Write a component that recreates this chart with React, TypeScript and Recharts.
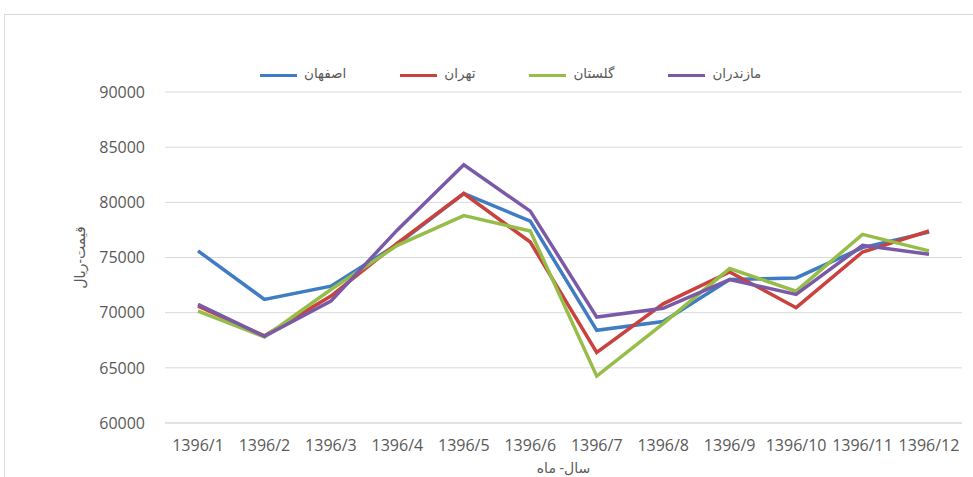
import React from 'react'
import { CartesianGrid, Line, LineChart, XAxis, YAxis } from 'recharts'

const months = [
  '1396/1', '1396/2', '1396/3', '1396/4', '1396/5', '1396/6',
  '1396/7', '1396/8', '1396/9', '1396/10', '1396/11', '1396/12',
]
const esfahan = [75600, 71200, 72400, 76200, 80800, 78300, 68400, 69200, 73000, 73150, 75900, 77300]
const tehran = [70600, 67900, 71500, 76300, 80800, 76400, 66400, 70800, 73700, 70450, 75500, 77400]
const golestan = [70150, 67800, 72100, 76100, 78800, 77400, 64250, 69000, 74000, 71950, 77100, 75600]
const mazandaran = [70750, 67850, 71050, 77500, 83400, 79200, 69600, 70400, 73000, 71650, 76100, 75300]
const yTicks = [60000, 65000, 70000, 75000, 80000, 85000, 90000]

const series = [
  { key: 'esfahan', name: 'اصفهان', color: '#3f7cc3' },
  { key: 'tehran', name: 'تهران', color: '#c9423d' },
  { key: 'golestan', name: 'گلستان', color: '#96bd48' },
  { key: 'mazandaran', name: 'مازندران', color: '#7a5aa6' },
]

const data = months.map((m, i) => ({
  month: m,
  esfahan: esfahan[i],
  tehran: tehran[i],
  golestan: golestan[i],
  mazandaran: mazandaran[i],
}))

const font = '"Open Sans", "DejaVu Sans", sans-serif'
const tickStyle = { fontSize: 16, fill: '#595959', fontFamily: font }

export default function App() {
  return (
    <div style={{ position: 'absolute', left: 0, top: 0, width: 973, height: 477, overflow: 'hidden', background: '#fff' }}>
      <div style={{ position: 'absolute', left: 4, top: 14, width: 990, height: 490, border: '1px solid #d9d9d9' }} />
      <div style={{ position: 'absolute', left: 260, top: 64, display: 'flex', alignItems: 'center', gap: 54, fontFamily: font, fontSize: 13.5, color: '#595959' }}>
        {series.map((s) => (
          <div key={s.key} style={{ display: 'flex', alignItems: 'center', gap: 7 }}>
            <span style={{ display: 'inline-block', width: 37, height: 3, background: s.color, marginTop: 4 }} />
            <span>{s.name}</span>
          </div>
        ))}
      </div>
      <LineChart width={973} height={477} data={data} margin={{ top: 92, right: 11, left: 0, bottom: 0 }}>
        <CartesianGrid stroke="#d9d9d9" vertical={false} />
        <XAxis
          dataKey="month"
          height={54}
          interval={0}
          padding={{ left: 33, right: 33 }}
          tick={tickStyle}
          tickLine={false}
          tickMargin={11}
          axisLine={{ stroke: '#d9d9d9' }}
          label={{ value: 'سال- ماه', position: 'insideBottom', offset: 4, style: { fontSize: 14, fill: '#595959', fontFamily: font } }}
        />
        <YAxis
          width={165}
          domain={[60000, 90000]}
          ticks={yTicks}
          tick={tickStyle}
          tickLine={false}
          axisLine={false}
          tickMargin={14}
          label={{
            value: 'قیمت-ریال',
            angle: -90,
            position: 'insideLeft',
            offset: 80,
            style: { fontSize: 14, fill: '#595959', fontFamily: font, textAnchor: 'middle' },
          }}
        />
        {series.map((s) => (
          <Line
            key={s.key}
            type="linear"
            dataKey={s.key}
            name={s.name}
            stroke={s.color}
            strokeWidth={3.5}
            dot={false}
            activeDot={false}
            isAnimationActive={false}
          />
        ))}
      </LineChart>
    </div>
  )
}
